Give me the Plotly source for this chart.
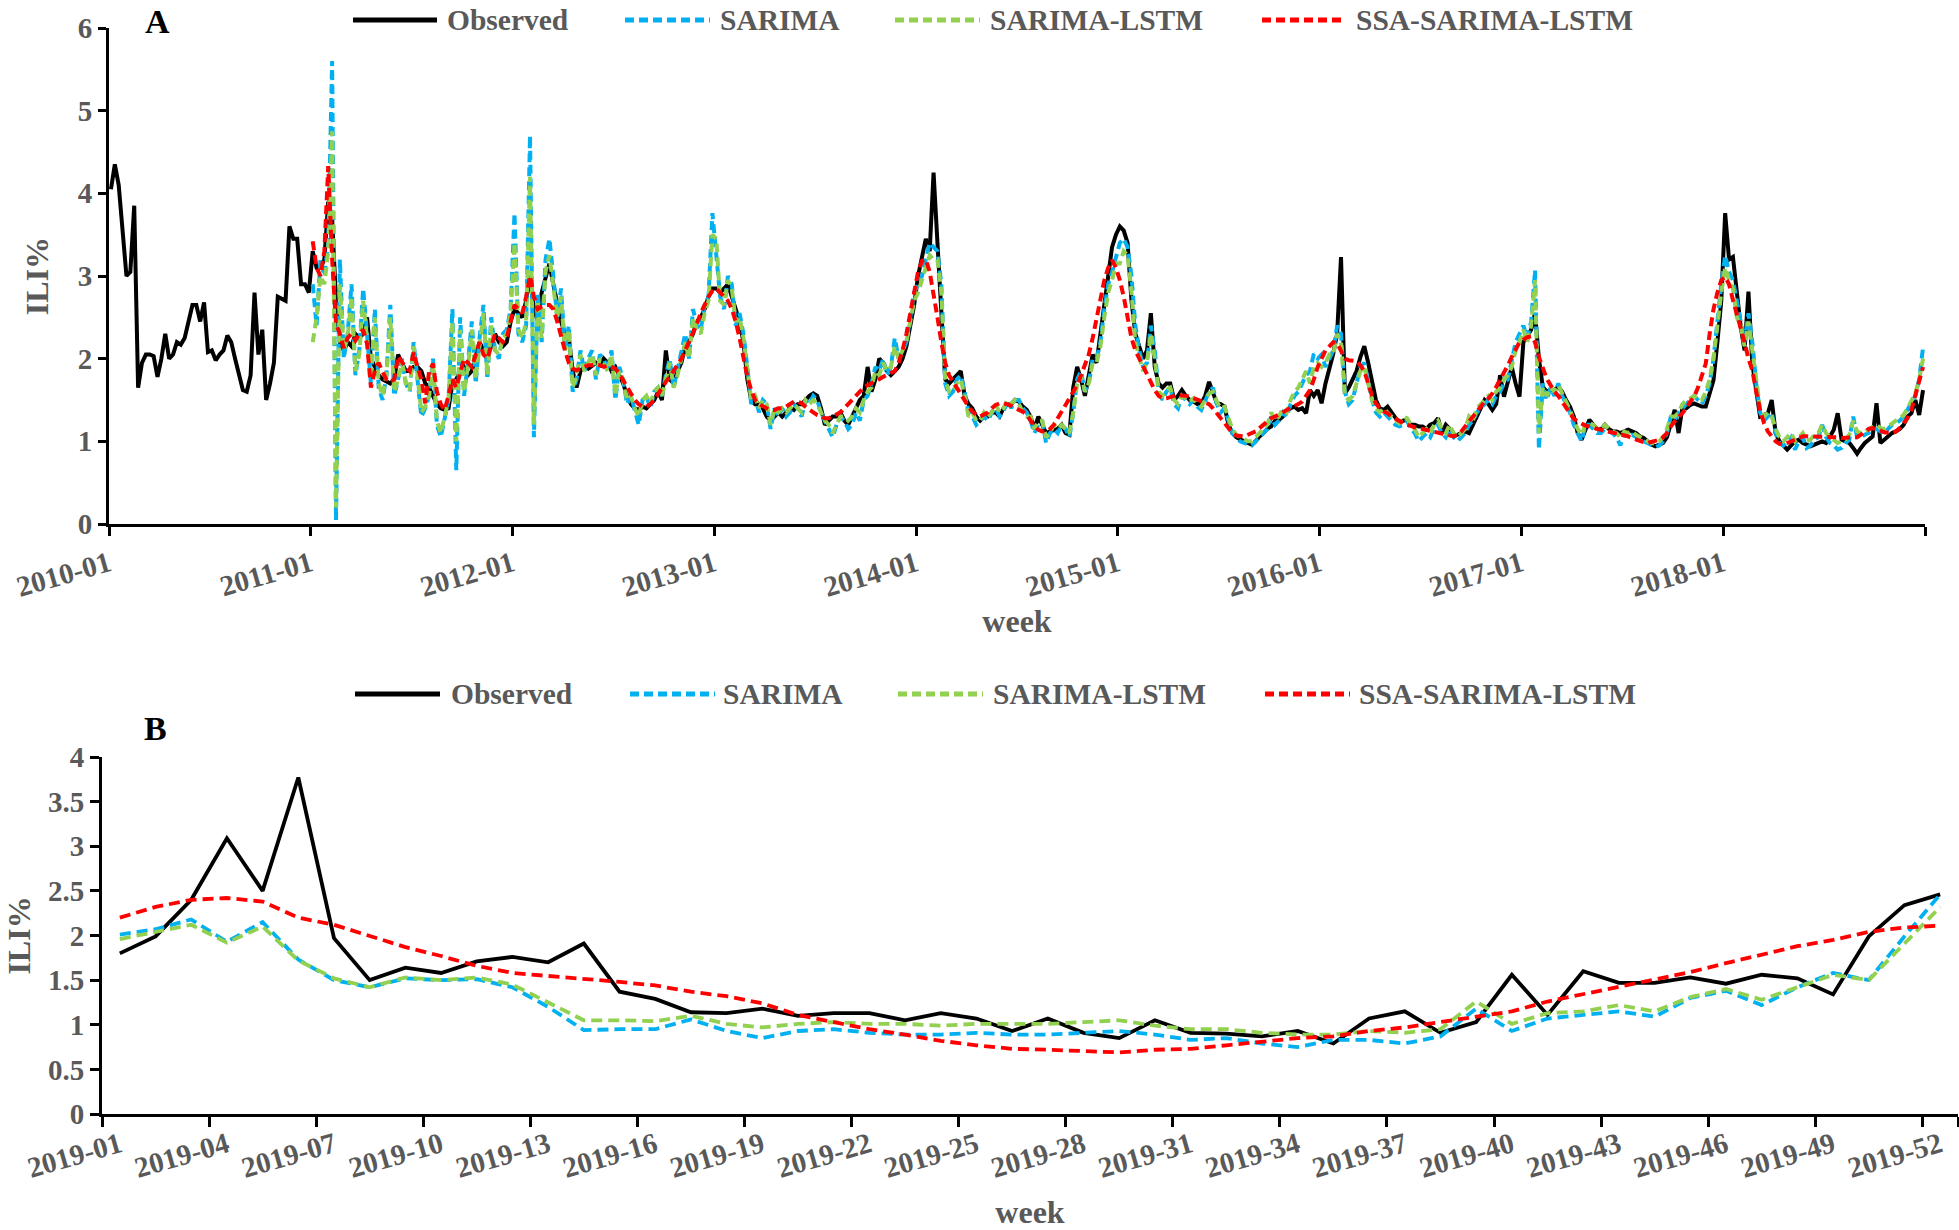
import plotly.graph_objects as go

# ---------------- Panel A: weekly ILI% 2010-2018 ----------------
tick_labels_A = ["2010-01", "2011-01", "2012-01", "2013-01", "2014-01",
                 "2015-01", "2016-01", "2017-01", "2018-01", ""]

obs_2010 = [4.05, 4.35, 4.1, 3.6, 3.0, 3.05, 3.85, 1.65, 1.95, 2.05, 2.05, 2.03, 1.78, 2.0, 2.3, 2.0, 2.05, 2.2, 2.17, 2.25,
            2.45, 2.65, 2.65, 2.45, 2.68, 2.08, 2.1, 1.98, 2.05, 2.1, 2.28, 2.2, 2.0, 1.8, 1.62, 1.6, 1.8, 2.8, 2.05, 2.35,
            1.5, 1.7, 1.95, 2.75, 2.73, 2.7, 3.6, 3.45, 3.45, 2.9, 2.9, 2.8]
obs_2011 = [3.3, 3.1, 3.1, 3.2, 3.9, 3.7, 2.7, 2.2, 2.1, 2.2, 2.15, 2.3, 2.25, 2.3, 2.5, 2.0, 1.9, 1.8, 1.75, 1.72,
            1.7, 1.75, 2.05, 1.95, 1.85, 1.85, 1.9, 1.9, 1.85, 1.7, 1.65, 1.55, 1.45, 1.4, 1.38, 1.4, 1.7, 1.75, 1.85, 1.9,
            1.8, 1.85, 2.05, 2.2, 2.1, 2.05, 2.15, 2.3, 2.2, 2.15, 2.2, 2.45]
obs_2012 = [2.6, 2.55, 2.5, 2.7, 3.0, 2.6, 2.45, 2.8, 3.0, 3.15, 2.9, 2.65, 2.45, 2.3, 2.25, 1.85, 1.65, 1.85, 1.9, 1.88,
            1.92, 1.95, 1.92, 2.0, 1.95, 1.85, 1.9, 1.8, 1.7, 1.55, 1.45, 1.4, 1.38, 1.42, 1.4, 1.45, 1.5, 1.6, 1.5, 2.1,
            1.75, 1.7, 1.85, 1.95, 2.15, 2.2, 2.3, 2.45, 2.5, 2.6, 2.75, 2.85]
obs_2013 = [2.85, 2.8, 2.85, 2.9, 2.75, 2.6, 2.45, 2.2, 1.75, 1.5, 1.45, 1.45, 1.4, 1.3, 1.25, 1.3, 1.35, 1.3, 1.35, 1.4,
            1.38, 1.45, 1.45, 1.5, 1.55, 1.58, 1.55, 1.4, 1.2, 1.25, 1.3, 1.3, 1.35, 1.25, 1.2, 1.3, 1.4, 1.5, 1.55, 1.9,
            1.6, 1.75, 2.0, 1.95, 1.85, 1.8, 1.85, 1.9, 2.0, 2.15, 2.4, 2.65]
obs_2014 = [3.0, 3.25, 3.45, 3.3, 4.25, 3.4, 2.5, 1.75, 1.7, 1.75, 1.8, 1.85, 1.55, 1.45, 1.4, 1.3, 1.25, 1.3, 1.3, 1.35,
            1.35, 1.3, 1.4, 1.45, 1.45, 1.5, 1.48, 1.42, 1.38, 1.3, 1.15, 1.3, 1.2, 1.1, 1.12, 1.14, 1.15, 1.2, 1.1, 1.08,
            1.65, 1.9, 1.75, 1.55, 1.8, 2.05, 1.95, 2.3, 2.7, 3.0, 3.35, 3.5]
obs_2015 = [3.6, 3.55, 3.4, 2.7, 2.3, 2.15, 2.0, 2.1, 2.55, 1.9, 1.7, 1.65, 1.7, 1.7, 1.5, 1.55, 1.62, 1.55, 1.5, 1.48,
            1.45, 1.46, 1.55, 1.72, 1.6, 1.46, 1.45, 1.42, 1.2, 1.1, 1.05, 1.02, 1.0, 0.98, 0.96, 1.0, 1.06, 1.1, 1.15, 1.18,
            1.25, 1.26, 1.3, 1.36, 1.4, 1.42, 1.38, 1.4, 1.34, 1.62, 1.55, 1.62]
obs_2016 = [1.46, 1.7, 1.86, 2.06, 2.3, 3.23, 1.58, 1.65, 1.75, 1.85, 2.02, 2.15, 1.95, 1.75, 1.5, 1.4, 1.38, 1.42, 1.35, 1.3,
            1.22, 1.25, 1.26, 1.2, 1.2, 1.18, 1.18, 1.15, 1.2, 1.22, 1.28, 1.1, 1.2, 1.15, 1.06, 1.08, 1.1, 1.12, 1.1, 1.2,
            1.3, 1.4, 1.5, 1.45, 1.38, 1.45, 1.8, 1.54, 1.7, 1.9, 1.7, 1.54]
obs_2017 = [2.2, 2.28, 2.35, 2.55, 2.0, 1.66, 1.6, 1.62, 1.62, 1.66, 1.6, 1.5, 1.42, 1.3, 1.1, 1.02, 1.15, 1.26, 1.2, 1.15,
            1.14, 1.2, 1.15, 1.12, 1.12, 1.1, 1.12, 1.14, 1.12, 1.1, 1.06, 1.04, 1.0, 0.96, 0.94, 0.96, 0.98, 1.05, 1.2, 1.38,
            1.1, 1.42, 1.4, 1.44, 1.46, 1.44, 1.42, 1.42, 1.6, 1.74, 2.2, 2.7]
obs_2018 = [3.76, 3.2, 3.23, 2.8, 2.39, 2.1, 2.81, 1.94, 1.6, 1.3, 1.32, 1.34, 1.5, 1.1, 1.0, 0.95, 0.9, 0.95, 1.0, 1.02,
            0.98, 0.96, 0.94, 0.96, 0.98, 1.0, 0.98, 1.05, 1.14, 1.34, 1.02, 1.0, 0.98, 0.92, 0.85, 0.92, 0.98, 1.02, 1.06, 1.46,
            0.98, 1.02, 1.06, 1.1, 1.12, 1.15, 1.2, 1.3, 1.34, 1.5, 1.32, 1.62]

sar_2011 = [2.9, 2.4, 3.2, 3.0, 3.4, 5.6, 0.05, 3.2, 2.0, 2.3, 2.9, 1.8, 2.1, 2.85, 2.3, 1.7, 2.6, 1.65, 1.5, 1.8,
            2.65, 1.55, 1.75, 2.0, 1.7, 1.6, 2.2, 1.8, 1.3, 1.4, 1.55, 2.0, 1.2, 1.05, 1.25, 1.5, 2.6, 0.65, 2.5, 1.55,
            1.95, 2.45, 1.7, 2.25, 2.65, 1.75, 2.5, 2.1, 2.0, 2.3, 2.35, 2.6]
sar_2012 = [3.76, 2.3, 2.2, 2.4, 4.7, 1.05, 2.8, 2.2, 3.2, 3.45, 3.0, 2.5, 2.85, 2.1, 2.4, 1.6, 1.75, 2.1, 1.85, 2.0,
            2.1, 1.75, 2.05, 2.0, 1.85, 2.1, 1.5, 1.9, 1.75, 1.45, 1.55, 1.35, 1.2, 1.5, 1.55, 1.4, 1.6, 1.65, 1.55, 1.8,
            2.0, 1.65, 1.85, 2.05, 2.3, 2.0, 2.6, 2.4, 2.35, 2.65, 2.75, 3.76]
sar_2013 = [3.3, 2.75, 2.6, 3.0, 2.9, 2.4, 2.55, 2.3, 1.9, 1.45, 1.55, 1.35, 1.5, 1.45, 1.15, 1.4, 1.3, 1.4, 1.3, 1.35,
            1.45, 1.4, 1.3, 1.5, 1.45, 1.55, 1.5, 1.35, 1.25, 1.15, 1.05, 1.2, 1.3, 1.25, 1.15, 1.2, 1.35, 1.25, 1.5, 1.55,
            1.7, 1.9, 1.85, 2.0, 1.8, 1.9, 2.25, 2.0, 2.1, 2.2, 2.5, 2.8]
sar_2014 = [2.9, 3.0, 3.2, 3.4, 3.35, 3.3, 2.9, 1.7, 1.55, 1.6, 1.75, 1.8, 1.6, 1.35, 1.3, 1.2, 1.25, 1.3, 1.25, 1.35,
            1.4, 1.3, 1.35, 1.5, 1.4, 1.5, 1.5, 1.4, 1.35, 1.25, 1.1, 1.2, 1.25, 0.98, 1.1, 1.15, 1.1, 1.2, 1.15, 1.05,
            1.35, 1.75, 1.85, 1.6, 1.7, 2.0, 2.0, 2.2, 2.6, 2.9, 3.05, 3.25]
sar_2015 = [3.4, 3.45, 3.35, 3.0, 2.4, 2.1, 1.9, 1.95, 2.4, 2.1, 1.6, 1.5, 1.6, 1.65, 1.45, 1.4, 1.55, 1.5, 1.45, 1.5,
            1.42, 1.38, 1.5, 1.6, 1.65, 1.45, 1.35, 1.4, 1.25, 1.1, 1.05, 1.0, 0.98, 0.96, 0.95, 1.0, 1.05, 1.1, 1.15, 1.3,
            1.2, 1.25, 1.35, 1.3, 1.45, 1.55, 1.6, 1.7, 1.8, 1.85, 2.06, 2.0]
sar_2016 = [2.05, 1.9, 2.0, 2.1, 2.4, 2.3, 1.6, 1.45, 1.5, 1.7, 1.9, 1.95, 1.7, 1.5, 1.35, 1.3, 1.35, 1.3, 1.25, 1.2,
            1.18, 1.2, 1.25, 1.15, 1.1, 1.0, 1.05, 1.1, 1.05, 1.15, 1.2, 1.1, 1.05, 1.15, 1.05, 1.0, 1.05, 1.1, 1.2, 1.25,
            1.35, 1.4, 1.45, 1.5, 1.45, 1.55, 1.6, 1.7, 1.75, 1.95, 2.2, 2.3]
sar_2017 = [2.4, 2.25, 2.45, 3.07, 0.9, 1.7, 1.5, 1.65, 1.55, 1.7, 1.55, 1.45, 1.35, 1.2, 1.1, 1.0, 1.2, 1.2, 1.15, 1.1,
            1.1, 1.15, 1.12, 1.1, 1.05, 0.95, 1.1, 1.05, 1.08, 1.05, 1.02, 1.0, 0.98, 0.95, 0.93, 0.95, 1.0, 1.1, 1.3, 1.25,
            1.35, 1.4, 1.45, 1.5, 1.55, 1.5, 1.45, 1.55, 1.7, 2.0, 2.5, 2.9]
sar_2018 = [3.25, 3.05, 2.95, 2.7, 2.45, 2.2, 2.55, 2.2, 1.7, 1.35, 1.25, 1.3, 1.35, 1.1, 0.98, 0.95, 1.0, 1.05, 0.9, 1.0,
            1.05, 0.92, 0.95, 1.02, 1.05, 1.2, 1.05, 0.98, 0.95, 0.9, 0.92, 0.98, 1.02, 1.3, 1.05, 1.05, 1.08, 1.1, 1.12, 1.15,
            1.12, 1.1, 1.15, 1.2, 1.22, 1.25, 1.3, 1.38, 1.45, 1.55, 1.75, 2.14]

lstm_2011 = [2.2, 2.5, 3.0, 2.9, 3.3, 4.75, 0.2, 2.9, 2.1, 2.25, 2.75, 1.85, 2.05, 2.7, 2.25, 1.75, 2.5, 1.7, 1.55, 1.8,
             2.5, 1.6, 1.75, 1.95, 1.7, 1.62, 2.15, 1.8, 1.35, 1.42, 1.55, 1.95, 1.25, 1.1, 1.3, 1.5, 2.45, 1.0, 2.35, 1.6,
             1.9, 2.35, 1.75, 2.2, 2.55, 1.8, 2.4, 2.1, 2.05, 2.25, 2.3, 2.55]
lstm_2012 = [3.4, 2.35, 2.25, 2.45, 4.2, 1.2, 2.7, 2.25, 3.05, 3.25, 2.9, 2.5, 2.75, 2.1, 2.35, 1.65, 1.8, 2.05, 1.85, 1.95,
             2.05, 1.8, 2.0, 1.95, 1.85, 2.05, 1.55, 1.85, 1.75, 1.5, 1.55, 1.4, 1.3, 1.5, 1.55, 1.45, 1.6, 1.65, 1.55, 1.75,
             1.95, 1.65, 1.8, 2.0, 2.2, 2.0, 2.5, 2.35, 2.3, 2.55, 2.7, 3.5]
lstm_2013 = [3.45, 2.7, 2.65, 2.95, 2.85, 2.45, 2.5, 2.25, 1.85, 1.5, 1.55, 1.4, 1.5, 1.45, 1.2, 1.4, 1.35, 1.4, 1.35, 1.4,
             1.45, 1.4, 1.35, 1.5, 1.45, 1.5, 1.45, 1.35, 1.25, 1.2, 1.1, 1.2, 1.3, 1.3, 1.25, 1.3, 1.4, 1.35, 1.5, 1.6,
             1.65, 1.85, 1.8, 1.95, 1.85, 1.9, 2.15, 2.0, 2.1, 2.2, 2.45, 2.7]
lstm_2014 = [2.8, 2.95, 3.1, 3.25, 3.2, 3.2, 2.8, 1.75, 1.6, 1.6, 1.7, 1.75, 1.55, 1.3, 1.35, 1.25, 1.25, 1.35, 1.3, 1.35,
             1.45, 1.35, 1.4, 1.5, 1.45, 1.5, 1.45, 1.35, 1.3, 1.3, 1.15, 1.25, 1.25, 1.05, 1.1, 1.2, 1.15, 1.2, 1.15, 1.1,
             1.35, 1.7, 1.8, 1.6, 1.7, 1.95, 1.95, 2.15, 2.5, 2.8, 2.95, 3.15]
lstm_2015 = [3.15, 3.3, 3.25, 2.8, 2.2, 2.0, 1.85, 1.95, 2.3, 2.0, 1.6, 1.55, 1.62, 1.65, 1.5, 1.45, 1.55, 1.52, 1.48, 1.52,
             1.45, 1.42, 1.5, 1.58, 1.6, 1.48, 1.4, 1.42, 1.28, 1.15, 1.08, 1.05, 1.02, 1.0, 1.0, 1.05, 1.1, 1.15, 1.2, 1.35,
             1.25, 1.3, 1.4, 1.35, 1.5, 1.6, 1.65, 1.75, 1.85, 1.7, 1.9, 1.95]
lstm_2016 = [1.9, 1.95, 2.05, 2.05, 2.3, 2.2, 1.55, 1.5, 1.55, 1.7, 1.85, 1.9, 1.7, 1.5, 1.4, 1.35, 1.4, 1.35, 1.3, 1.25,
             1.22, 1.3, 1.28, 1.2, 1.15, 1.05, 1.1, 1.15, 1.1, 1.2, 1.25, 1.15, 1.1, 1.2, 1.1, 1.05, 1.1, 1.15, 1.3, 1.25,
             1.4, 1.45, 1.5, 1.55, 1.5, 1.6, 1.65, 1.75, 1.8, 1.9, 2.1, 2.2]
lstm_2017 = [2.35, 2.2, 2.4, 2.95, 1.1, 1.65, 1.55, 1.65, 1.6, 1.68, 1.58, 1.48, 1.38, 1.25, 1.15, 1.08, 1.2, 1.22, 1.2, 1.15,
             1.15, 1.2, 1.15, 1.12, 1.1, 1.05, 1.12, 1.1, 1.12, 1.08, 1.05, 1.03, 1.0, 0.98, 0.97, 1.0, 1.05, 1.15, 1.3, 1.3,
             1.35, 1.45, 1.5, 1.52, 1.55, 1.5, 1.5, 1.6, 1.75, 2.0, 2.45, 2.8]
lstm_2018 = [3.1, 2.95, 2.85, 2.5, 2.4, 2.15, 2.45, 2.1, 1.7, 1.4, 1.3, 1.35, 1.3, 1.15, 1.05, 1.0, 1.05, 1.1, 1.0, 1.05,
             1.1, 1.0, 1.02, 1.08, 1.1, 1.2, 1.1, 1.05, 1.02, 0.98, 1.0, 1.02, 1.08, 1.25, 1.12, 1.1, 1.12, 1.15, 1.18, 1.2,
             1.16, 1.15, 1.18, 1.22, 1.25, 1.28, 1.32, 1.4, 1.48, 1.58, 1.75, 2.0]

ssa_2011 = [3.42, 3.1, 3.0, 3.3, 4.33, 3.2, 2.42, 2.3, 2.13, 2.25, 2.3, 2.22, 2.3, 2.35, 2.18, 1.65, 1.85, 1.95, 1.84, 1.75,
            1.72, 1.75, 2.03, 1.95, 1.89, 1.85, 2.08, 1.9, 1.75, 1.46, 1.85, 1.94, 1.6, 1.45, 1.38, 1.55, 1.75, 1.65, 1.85, 2.0,
            1.95, 1.9, 2.05, 2.2, 2.05, 2.0, 2.15, 2.3, 2.25, 2.2, 2.25, 2.45]
ssa_2012 = [2.65, 2.6, 2.55, 2.75, 3.0, 2.75, 2.6, 2.63, 2.65, 2.65, 2.6, 2.45, 2.25, 2.1, 1.95, 1.88, 1.86, 1.88, 1.9, 1.92,
            1.92, 1.93, 1.92, 1.9, 1.92, 1.9, 1.88, 1.82, 1.75, 1.66, 1.58, 1.5, 1.45, 1.42, 1.42, 1.45, 1.5, 1.58, 1.65, 1.72,
            1.78, 1.85, 1.92, 2.0, 2.1, 2.2, 2.3, 2.42, 2.55, 2.65, 2.75, 2.82]
ssa_2013 = [2.85, 2.8, 2.75, 2.7, 2.6, 2.45, 2.25, 2.0, 1.78, 1.62, 1.5, 1.45, 1.42, 1.4, 1.38, 1.38, 1.4, 1.4, 1.42, 1.45,
            1.48, 1.48, 1.46, 1.42, 1.38, 1.35, 1.32, 1.3, 1.28, 1.28, 1.3, 1.32, 1.35, 1.4, 1.45, 1.5, 1.55, 1.6, 1.65, 1.68,
            1.7, 1.72, 1.75, 1.78, 1.8, 1.82, 1.85, 1.95, 2.1, 2.3, 2.55, 2.8]
ssa_2014 = [3.05, 3.18, 3.2, 3.05, 2.8, 2.5, 2.2, 1.95, 1.8, 1.72, 1.65, 1.58, 1.5, 1.42, 1.36, 1.32, 1.3, 1.32, 1.35, 1.4,
            1.44, 1.46, 1.46, 1.45, 1.43, 1.4, 1.38, 1.36, 1.32, 1.25, 1.18, 1.14, 1.12, 1.12, 1.15, 1.2, 1.28, 1.36, 1.44, 1.5,
            1.58, 1.68, 1.8, 1.92, 2.05, 2.25, 2.5, 2.75, 2.95, 3.1, 3.19, 3.1]
ssa_2015 = [2.95, 2.75, 2.5, 2.25, 2.1, 2.0, 1.9, 1.82, 1.72, 1.62, 1.55, 1.52, 1.52, 1.54, 1.55, 1.56, 1.56, 1.55, 1.54, 1.52,
            1.5, 1.48, 1.47, 1.45, 1.4, 1.34, 1.28, 1.22, 1.16, 1.1, 1.07, 1.06, 1.06, 1.08, 1.1, 1.12, 1.16, 1.2, 1.25, 1.28,
            1.3, 1.32, 1.35, 1.38, 1.4, 1.42, 1.45, 1.48, 1.55, 1.62, 1.75, 1.9]
ssa_2016 = [2.0, 2.1, 2.15, 2.2, 2.19, 2.1, 2.0, 1.98, 1.98, 1.97, 1.92, 1.85, 1.7, 1.55, 1.46, 1.4, 1.36, 1.34, 1.3, 1.27,
            1.24, 1.22, 1.2, 1.18, 1.17, 1.16, 1.15, 1.13, 1.12, 1.11, 1.1, 1.09, 1.08, 1.07, 1.06, 1.08, 1.12, 1.18, 1.24, 1.3,
            1.36, 1.42, 1.48, 1.52, 1.58, 1.66, 1.74, 1.82, 1.92, 2.02, 2.12, 2.2]
ssa_2017 = [2.23, 2.26, 2.27, 2.2, 2.02, 1.88, 1.76, 1.68, 1.6, 1.55, 1.48, 1.4, 1.33, 1.27, 1.24, 1.21, 1.19, 1.18, 1.16, 1.15,
            1.14, 1.13, 1.12, 1.11, 1.1, 1.09, 1.08, 1.06, 1.04, 1.02, 1.0, 0.99, 0.98, 0.99, 1.0, 1.02, 1.05, 1.1, 1.18, 1.25,
            1.3, 1.34, 1.4, 1.48, 1.54, 1.65, 1.8, 1.94, 2.3, 2.6, 2.8, 2.95]
ssa_2018 = [2.99, 2.9, 2.71, 2.55, 2.39, 2.2, 2.0, 1.86, 1.6, 1.38, 1.22, 1.12, 1.06, 1.0, 0.97, 0.96, 0.98, 1.0, 1.02, 1.04,
            1.06, 1.06, 1.06, 1.06, 1.06, 1.06, 1.06, 1.06, 1.05, 1.05, 1.04, 1.04, 1.04, 1.04, 1.05, 1.08, 1.12, 1.15, 1.16, 1.15,
            1.13, 1.11, 1.1, 1.1, 1.12, 1.16, 1.22, 1.28, 1.38, 1.55, 1.75, 1.9]

# ---------------- Panel B: weekly ILI% 2019 ----------------
weeks_B = ["2019-%02d" % w for w in range(1, 53)]
tick_labels_B = ["2019-01", "2019-04", "2019-07", "2019-10", "2019-13", "2019-16", "2019-19", "2019-22", "2019-25",
                 "2019-28", "2019-31", "2019-34", "2019-37", "2019-40", "2019-43", "2019-46", "2019-49", "2019-52"]
obs_B = [1.80, 1.99, 2.4, 3.09, 2.5, 3.77, 1.97, 1.5, 1.64, 1.58, 1.71, 1.76, 1.70, 1.91, 1.37, 1.29, 1.14, 1.13, 1.18, 1.1,
         1.13, 1.13, 1.05, 1.13, 1.07, 0.93, 1.07, 0.91, 0.85, 1.05, 0.91, 0.9, 0.87, 0.93, 0.79, 1.07, 1.15, 0.91, 1.03, 1.56,
         1.11, 1.6, 1.47, 1.47, 1.53, 1.46, 1.56, 1.52, 1.34, 1.99, 2.34, 2.46]
sar_B = [2.01, 2.07, 2.18, 1.93, 2.15, 1.73, 1.5, 1.42, 1.52, 1.5, 1.51, 1.42, 1.2, 0.94, 0.95, 0.95, 1.06, 0.93, 0.85, 0.93,
         0.95, 0.91, 0.89, 0.89, 0.91, 0.89, 0.89, 0.91, 0.93, 0.89, 0.83, 0.85, 0.79, 0.75, 0.83, 0.83, 0.79, 0.87, 1.18, 0.93,
         1.07, 1.11, 1.15, 1.09, 1.3, 1.38, 1.22, 1.42, 1.58, 1.5, 1.99, 2.46]
lstm_B = [1.96, 2.04, 2.12, 1.92, 2.1, 1.72, 1.52, 1.42, 1.53, 1.5, 1.53, 1.45, 1.25, 1.05, 1.05, 1.04, 1.1, 1.01, 0.97, 1.01,
          1.03, 1.01, 1.01, 0.99, 1.01, 1.01, 1.01, 1.03, 1.05, 0.99, 0.95, 0.95, 0.91, 0.89, 0.89, 0.93, 0.91, 0.95, 1.26, 1.01,
          1.13, 1.15, 1.22, 1.15, 1.31, 1.4, 1.28, 1.42, 1.56, 1.5, 1.91, 2.32]
ssa_B = [2.2, 2.32, 2.4, 2.42, 2.38, 2.2, 2.12, 2.0, 1.87, 1.77, 1.66, 1.58, 1.55, 1.52, 1.48, 1.44, 1.37, 1.32, 1.24, 1.11,
         1.03, 0.95, 0.89, 0.82, 0.77, 0.73, 0.72, 0.71, 0.69, 0.72, 0.73, 0.77, 0.81, 0.85, 0.87, 0.93, 0.97, 1.03, 1.09, 1.15,
         1.26, 1.34, 1.42, 1.51, 1.59, 1.69, 1.79, 1.88, 1.95, 2.04, 2.09, 2.11]

series_names = ["Observed", "SARIMA", "SARIMA-LSTM", "SSA-SARIMA-LSTM"]
series_colors = ["#000000", "#00B0F0", "#92D050", "#FF0000"]

observed_A = obs_2010 + obs_2011 + obs_2012 + obs_2013 + obs_2014 + obs_2015 + obs_2016 + obs_2017 + obs_2018
sarima_A = sar_2011 + sar_2012 + sar_2013 + sar_2014 + sar_2015 + sar_2016 + sar_2017 + sar_2018
lstm_A = lstm_2011 + lstm_2012 + lstm_2013 + lstm_2014 + lstm_2015 + lstm_2016 + lstm_2017 + lstm_2018
ssa_A = ssa_2011 + ssa_2012 + ssa_2013 + ssa_2014 + ssa_2015 + ssa_2016 + ssa_2017 + ssa_2018

# week index (category centre) on a numeric axis; forecasts start at 2011-01 (week index 52)
x_obs_A = [i + 0.5 for i in range(len(observed_A))]
start_fc = len(observed_A) - len(sarima_A)
x_fc_A = [start_fc + i + 0.5 for i in range(len(sarima_A))]

W, H = 1959, 1230
FONT = "Liberation Serif"
GREY = "#595959"


def px(x):
    return x / W


def py(y):
    return 1 - y / H


fig = go.Figure()

dashA = "9px,5px"
fig.add_trace(go.Scatter(x=x_obs_A, y=observed_A, mode="lines", name=series_names[0],
                         line=dict(color=series_colors[0], width=4), xaxis="x", yaxis="y", showlegend=False))
for name, col, ys in zip(series_names[1:], series_colors[1:], [sarima_A, lstm_A, ssa_A]):
    fig.add_trace(go.Scatter(x=x_fc_A, y=ys, mode="lines", name=name,
                             line=dict(color=col, width=4, dash=dashA), xaxis="x", yaxis="y", showlegend=False))

dashB = "11px,6px"
fig.add_trace(go.Scatter(x=weeks_B, y=obs_B, mode="lines", name=series_names[0],
                         line=dict(color=series_colors[0], width=3.8), xaxis="x2", yaxis="y2", showlegend=False))
for name, col, ys in zip(series_names[1:], series_colors[1:], [sar_B, lstm_B, ssa_B]):
    fig.add_trace(go.Scatter(x=weeks_B, y=ys, mode="lines", name=name,
                             line=dict(color=col, width=3.8, dash=dashB), xaxis="x2", yaxis="y2", showlegend=False))

tickfont = dict(family=FONT, size=29, color=GREY, weight="bold")
titlefont = dict(family=FONT, size=32, color=GREY, weight="bold")
axis_common = dict(showline=True, linecolor="black", linewidth=3, ticks="outside", tickcolor="black",
                   tickwidth=3, showgrid=False, zeroline=False, tickfont=tickfont, automargin=False)

fig.update_layout(
    width=W, height=H, margin=dict(l=0, r=0, t=0, b=0), autosize=False,
    paper_bgcolor="white", plot_bgcolor="white", showlegend=False,
    xaxis=dict(domain=[px(109), px(1925)], anchor="y", range=[0, len(observed_A)],
               tickmode="array", tickvals=[52 * i for i in range(len(tick_labels_A))], ticktext=tick_labels_A,
               tickangle=-16, ticklen=9,
               title=dict(text="week", font=titlefont, standoff=8), **axis_common),
    yaxis=dict(domain=[py(524), py(28)], anchor="x", range=[0, 6], tickmode="linear", tick0=0, dtick=1,
               ticklen=8, title=dict(text="ILI%", font=titlefont, standoff=20), **axis_common),
    xaxis2=dict(domain=[px(102), px(1958)], anchor="y2", type="category", categoryorder="array",
                categoryarray=weeks_B, range=[-0.5, 51.5], tickmode="array", tickvals=tick_labels_B,
                ticktext=tick_labels_B, tickson="boundaries", tickangle=-16, ticklen=10,
                title=dict(text="week", font=titlefont, standoff=22), **axis_common),
    yaxis2=dict(domain=[py(1114), py(757)], anchor="x2", range=[0, 4], tickmode="linear", tick0=0, dtick=0.5,
                ticklen=9, title=dict(text="ILI%", font=titlefont, standoff=8), **axis_common),
)

# manual legends (long line samples like the original)
legend_font = dict(family=FONT, size=29.5, color=GREY, weight="bold")
legend_rows = [
    (20, [(353, 437), (625, 710), (895, 980), (1262, 1346)], [446, 719, 989, 1355]),
    (694, [(355, 440), (630, 715), (898, 983), (1265, 1350)], [450, 722, 992, 1358]),
]
for ly, lines, texts in legend_rows:
    for i, (name, col) in enumerate(zip(series_names, series_colors)):
        x0, x1 = lines[i]
        fig.add_shape(type="line", xref="paper", yref="paper", x0=px(x0), x1=px(x1), y0=py(ly), y1=py(ly),
                      line=dict(color=col, width=5, dash=None if i == 0 else "9px,5px"))
        fig.add_annotation(xref="paper", yref="paper", x=px(texts[i]), y=py(ly), text=name, showarrow=False,
                           xanchor="left", yanchor="middle", font=legend_font, borderpad=0)

panel_font = dict(family=FONT, size=34, color="black", weight="bold")
fig.add_annotation(xref="paper", yref="paper", x=px(157), y=py(21), text="A", showarrow=False,
                   xanchor="center", yanchor="middle", font=panel_font, borderpad=0)
fig.add_annotation(xref="paper", yref="paper", x=px(155), y=py(728), text="B", showarrow=False,
                   xanchor="center", yanchor="middle", font=panel_font, borderpad=0)

fig.write_html("out.html", config={"displayModeBar": False},
               post_script="document.body.style.margin='0px';document.body.style.overflow='hidden';")
